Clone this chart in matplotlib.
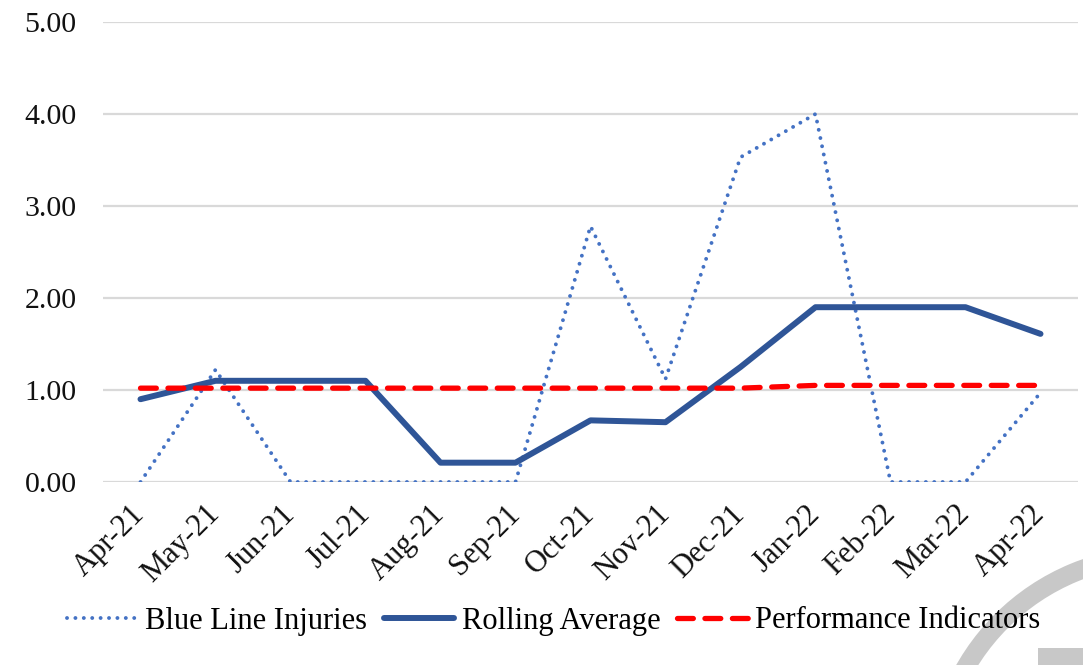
import matplotlib
matplotlib.use("Agg")
import matplotlib.pyplot as plt
from matplotlib.patches import Wedge, Rectangle

months = ["Apr-21", "May-21", "Jun-21", "Jul-21", "Aug-21", "Sep-21", "Oct-21",
          "Nov-21", "Dec-21", "Jan-22", "Feb-22", "Mar-22", "Apr-22"]
blue_line_injuries = [0.0, 1.22, 0.0, 0.0, 0.0, 0.0, 2.78, 1.12, 3.53, 4.0, 0.0, 0.0, 0.97]
rolling_average = [0.9, 1.1, 1.1, 1.1, 0.21, 0.21, 0.67, 0.65, 1.25, 1.9, 1.9, 1.9, 1.61]
performance_indicators = [1.02, 1.02, 1.02, 1.02, 1.02, 1.02, 1.02, 1.02, 1.02, 1.05, 1.05, 1.05, 1.05]
yticks = [0, 1, 2, 3, 4, 5]

plt.rcParams['font.family'] = ['Liberation Serif', 'DejaVu Serif']

fig = plt.figure(figsize=(10.83, 6.65), dpi=100)

# decorative gray arc at bottom right (positions in inches from bottom-left)
arc = Wedge((11.60, -1.15), 2.34, 0, 360, width=0.19,
            transform=fig.dpi_scale_trans, facecolor="#C8C8C8", edgecolor="none", zorder=0)
fig.patches.append(arc)
fig.patches.append(Rectangle((10.38, 0), 0.5, 0.17, transform=fig.dpi_scale_trans,
                             facecolor="#C8C8C8", edgecolor="none", zorder=0))

W, H = 1083, 665
ax = fig.add_axes([103 / W, 1 - 482 / H, 975 / W, 460 / H])
ax.set_facecolor("none")
x = list(range(len(months)))

ax.plot(x, blue_line_injuries, color="#4472C4", lw=2.8, linestyle=(0, (0.01, 2.15)),
        dash_capstyle="round", label="Blue Line Injuries", zorder=3)
ax.plot(x, rolling_average, color="#2F5597", lw=4.3, solid_capstyle="round",
        solid_joinstyle="round", label="Rolling Average", zorder=4)
ax.plot(x, performance_indicators, color="#FF0000", lw=3.8, linestyle=(0, (3.0, 2.2)),
        dash_capstyle="round", label="Performance Indicators", zorder=5)

ax.set_xlim(-0.5, len(months) - 0.5)
ax.set_ylim(0, 5)
ax.set_yticks(yticks)
ax.set_yticklabels([f"{v:.2f}" for v in yticks], fontsize=21.5, color="#111111")
ax.set_xticks(x)
ax.set_xticklabels(months, fontsize=22, rotation=45, ha="right", va="center",
                   rotation_mode="anchor", color="#111111")
ax.tick_params(axis="both", length=0)
ax.tick_params(axis="y", pad=19)
ax.tick_params(axis="x", pad=20)
ax.grid(axis="y", color="#D9D9D9", lw=1.6, zorder=0)
ax.set_axisbelow(True)
for s in ax.spines.values():
    s.set_visible(False)

leg = fig.legend(loc="center", bbox_to_anchor=(554 / W, 1 - 621 / H), ncol=3, frameon=False,
                 fontsize=22, handlelength=2.3, handletextpad=0.25, columnspacing=0.55)

fig.savefig("out.png", dpi=100)
